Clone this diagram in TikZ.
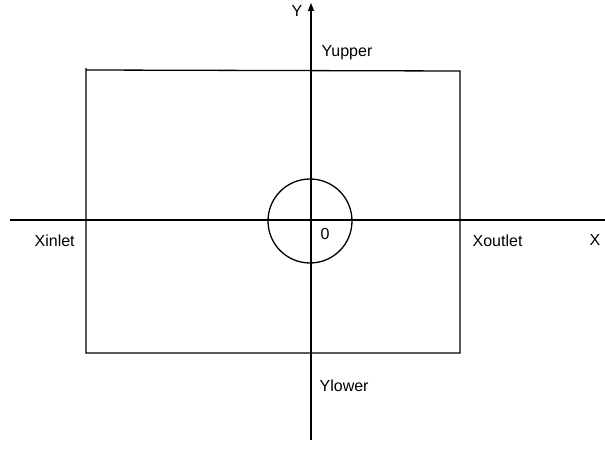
\documentclass[tikz,border=0pt]{standalone}
\usepackage{fontspec}
\setmainfont{Liberation Sans}
\usetikzlibrary{positioning,arrows.meta}

\begin{document}
\begin{tikzpicture}[x=1pt,y=-1pt,>={Triangle[length=8pt,width=6pt]},line width=1.3pt,
    lbl/.style={anchor=base west,inner sep=0pt,font=\fontsize{16}{19}\selectfont}]

        \useasboundingbox (0,0) rectangle (605,449);

        % axes
        \coordinate (xl) at (10,220);
        \coordinate (xr) at (605,220);
        \coordinate (yb) at (311,440);
        \coordinate (yt) at (311,3);

        % domain corners
        \coordinate (c1) at (86,68);
        \coordinate (c2) at (86,70);
        \coordinate (c3) at (460,71);
        \coordinate (c4) at (460,353);
        \coordinate (c5) at (86,353);

        \node[circle, draw, minimum size=84pt, inner sep=0pt, line width=1.3pt] (cyl) at (310,221) {};

        \node[lbl] (Y) at (291,17) {Y};
        \node[lbl] (Yupper) at (321,57) {Yupper};
        \node[lbl] (Xinlet) at (34,247) {Xinlet};
        \node[lbl] (O) at (320,240) {0};
        \node[lbl] (Xoutlet) at (472,247) {Xoutlet};
        \node[lbl] (X) at (589,245) {X};
        \node[lbl] (Ylower) at (319,391) {Ylower};

        \draw (xl) -- (xr);
        \draw[->] (yb) -- (yt);
        \draw (c2) -- (c3) -- (c4) -- (c5) -- (c1);

    \end{tikzpicture}
\end{document}
